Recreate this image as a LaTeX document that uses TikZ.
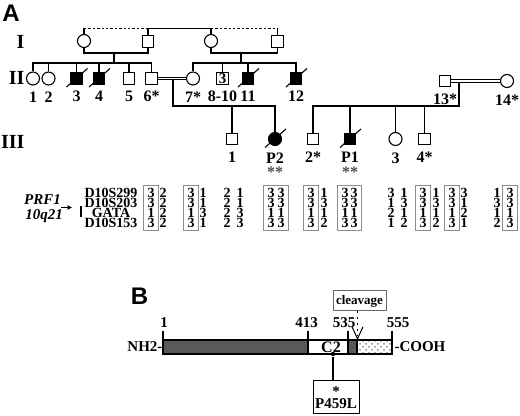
\documentclass[tikz,border=0pt]{standalone}
\usepackage{fontspec}
\setmainfont{Liberation Serif}
\newfontfamily\headfont{Liberation Sans}
\usetikzlibrary{arrows.meta,positioning,fit,patterns}
\definecolor{domain}{HTML}{595959}
\definecolor{boxgray}{HTML}{8C8C8C}
\newcommand{\pedfont}{\bfseries\fontsize{8}{9}\selectfont}
\newcommand{\genfont}{\bfseries\fontsize{10}{12}\selectfont}
\newcommand{\tabfont}{\bfseries\fontsize{7.5}{9}\selectfont}
\newcommand{\hapfont}{\bfseries\fontsize{7}{8}\selectfont}
\newcommand{\partfont}{\headfont\bfseries\fontsize{12}{14}\selectfont}

\begin{document}
\begin{tikzpicture}[x=0.5pt,y=-0.5pt,line width=0.55pt,
  male/.style={draw,rectangle,minimum size=5.75pt,inner sep=0pt},
  female/.style={draw,circle,minimum size=6.5pt,inner sep=0pt},
  affected/.style={fill=black},
  idtag/.style={font=\pedfont,inner sep=0pt},
  gen/.style={font=\genfont,anchor=east,inner sep=0pt},
  allele/.style={font=\hapfont,inner sep=0pt},
  hapbox/.style={draw=boxgray,line width=0.5pt,inner xsep=1.9pt,inner ysep=1.2pt},
  marriage/.style={double,double distance=0.7pt},
  postag/.style={font=\tabfont,inner sep=0pt},
]
\useasboundingbox (0,0) rectangle (520,416);

% A: pedigree
\node[font=\partfont,inner sep=0pt] (partA) at (11,13) {A};
\node[gen] (genI) at (25,42) {I};
\node[gen] (genII) at (25,78) {II};
\node[gen] (genIII) at (25,142) {III};

\node[female] (i1) at (84,41) {};
\node[male] (i2) at (148,41.5) {};
\node[female] (i3) at (211,41) {};
\node[male] (i4) at (277.5,41.5) {};

\node[female] (ii1) at (33,78.5) {};
\node[female] (ii2) at (48.5,78.5) {};
\node[male,affected] (ii3) at (76.5,78.5) {};
\node[male,affected] (ii4) at (99,78.5) {};
\node[male] (ii5) at (129,78.5) {};
\node[male] (ii6) at (151.5,78.5) {};
\node[female] (ii7) at (193,78.5) {};
\node[male,font=\tabfont] (ii8) at (222.5,78.5) {3};
\node[male,affected] (ii11) at (248,78.5) {};
\node[male,affected] (ii12) at (296,78.5) {};
\node[male] (ii13) at (445,81) {};
\node[female] (ii14) at (507,81) {};

\node[male] (iii1) at (232,139) {};
\node[female,affected] (p2) at (275,139) {};
\node[male] (iii2) at (313,139) {};
\node[male,affected] (p1) at (350,139) {};
\node[female] (iii3) at (395.5,139) {};
\node[male] (iii4) at (424.5,139) {};

\foreach \n/\t in {ii1/1,ii2/2,ii3/3,ii4/4,ii5/5,ii6/6*,ii7/7*,ii8/8-10,ii11/11,ii12/12,
                   ii13/13*,ii14/14*,iii1/1,p2/P2,iii2/2*,p1/P1,iii3/3,iii4/4*}
  \node[idtag,below=3pt of \n] (lab-\n) {\t};
\node[idtag,below=1.5pt of lab-p2,text=black!70] (star-p2) {**};
\node[idtag,below=1.5pt of lab-p1,text=black!70] (star-p1) {**};

% deceased
\foreach \n in {ii3,ii4,ii11,ii12,p2,p1}
  \draw ([shift={(-10,8.5)}]\n.center) -- ([shift={(11,-10)}]\n.center);

% lines of descent
\coordinate (top) at (0,28.5);
\draw (i1.north) -- (i1 |- top);
\draw[dash pattern=on 1.2pt off 1pt] (i1 |- top) -- (i2 |- top);
\draw (i2.north) -- (i2 |- top) -- (i3 |- top) -- (i3.north);
\draw[dash pattern=on 1.2pt off 1pt] (i3 |- top) -- (i4 |- top);
\draw (i4 |- top) -- (i4.north);

\coordinate (mI) at (0,53);
\draw (i1.south) |- (i2 |- mI) -- (i2.south);
\draw (i3.south) |- (i4 |- mI) -- (i4.south);

\coordinate (d1) at (114,53);
\coordinate (s1) at (114,63);
\draw (d1) -- (s1);
\draw (ii1.north) |- (ii6 |- s1) -- (ii6.north);
\foreach \c in {ii2,ii3,ii4,ii5} \draw (\c.north) -- (\c |- s1);

\coordinate (d2) at (241,53);
\coordinate (s2) at (241,63);
\draw (d2) -- (s2);
\draw (ii7.north) |- (ii12 |- s2) -- (ii12.north);
\foreach \c in {ii8,ii11} \draw (\c.north) -- (\c |- s2);

\draw[marriage] (ii6.east) -- (ii7.west);
\coordinate (d3) at (173,79.5);
\coordinate (s3) at (173,106);
\draw (d3) -- (s3) -| (p2.north);
\draw (iii1.north) -- (iii1 |- s3);

\draw[marriage] (ii13.east) -- (ii14.west);
\coordinate (d4) at (459,82);
\coordinate (s4) at (459,106);
\draw (d4) -- (s4) -| (iii2.north);
\foreach \c in {p1,iii3,iii4} \draw (\c.north) -- (\c |- s4);

% haplotypes
\node[inner sep=0pt,font=\bfseries\itshape\fontsize{7.5}{9}\selectfont] (prf) at (42.5,200) {PRF1};
\node[inner sep=0pt,font=\bfseries\itshape\fontsize{7.5}{9}\selectfont] (band) at (44,216) {10q21};
\coordinate (pointer) at (72,207.5);
\draw[-{Latex[length=2.2pt,width=2.6pt]}] (prf.east |- pointer) -- (pointer);
\coordinate (locus) at (81,206);
\coordinate (locusend) at (81,217);
\draw[line width=1pt] (locus) -- (locusend);

\foreach \m [count=\r] in {D10S299,D10S203,GATA,D10S153}
  \node[allele] (mk\r) at (111,183+10*\r) {\m};

\foreach \cx/\alls in {151/{3,3,1,3},163/{2,2,2,2},191/{3,3,1,3},203/{1,1,3,1},
    227/{2,2,2,2},240/{1,1,3,3},271/{3,3,1,3},281/{3,3,1,3},311/{3,3,1,3},324/{1,3,1,2},
    345/{3,3,1,3},354/{3,3,1,3},391/{3,1,2,1},404/{1,3,1,2},423/{3,3,1,3},436/{1,3,1,2},
    452/{3,3,1,3},464/{3,1,2,1},497/{1,3,1,2},510/{3,3,1,3}}
  \foreach \v [count=\r] in \alls
    \node[allele] (a\cx-\r) at (\cx,183+10*\r) {\v};

\foreach \p/\q [count=\k] in {151/151,191/191,271/281,311/311,345/354,423/423,452/452,510/510}
  \node[hapbox,fit=(a\p-1)(a\q-4)] (hb\k) {};

% B: perforin
\node[font=\partfont,inner sep=0pt] (partB) at (139.5,296.5) {B};
\filldraw[fill=domain] (163,340) rectangle (308,354);
\draw[fill=white] (308,340) rectangle (348,354);
\filldraw[fill=domain] (348,340) rectangle (357,354);
\draw[pattern=crosshatch dots,pattern color=black!45] (357,340) rectangle (392,354);
\foreach \p in {163,308,348,392} \draw (\p,331) -- (\p,340);

\node[postag] (pos1) at (164,323) {1};
\node[postag] (pos413) at (306.5,323) {413};
\node[postag] (pos535) at (344,323) {535};
\node[postag] (pos555) at (398,323) {555};
\node[postag,anchor=east] (nterm) at (163,347) {NH2-};
\node[postag,anchor=west] (cterm) at (394,347) {-COOH};
\node[font=\bfseries\fontsize{8}{9}\selectfont,inner sep=0pt] (c2) at (331,347) {C2};

\node[draw=black!60,line width=0.5pt,font=\bfseries\fontsize{6.5}{8}\selectfont,
  minimum width=26.5pt,minimum height=10pt,inner sep=1pt] (cleave) at (359.5,301) {cleavage};
\coordinate (cut) at (357.5,340);
\draw[dotted,line width=0.9pt,-{Straight Barb[length=6pt,width=5.5pt,line width=0.5pt]}]
  (cleave.south -| cut) -- (cut);

\node[circle,fill,inner sep=0pt,minimum size=2.2pt] (mutdot) at (333,354) {};
\node[draw,line width=0.5pt,minimum width=23pt,minimum height=16.5pt,align=center,inner sep=0pt,
  font=\bfseries\fontsize{7.5}{6}\selectfont] (mutbox) at (336,397.5) {*\\P459L};
\draw (mutdot) -- (mutdot |- mutbox.north);
\end{tikzpicture}
\end{document}
